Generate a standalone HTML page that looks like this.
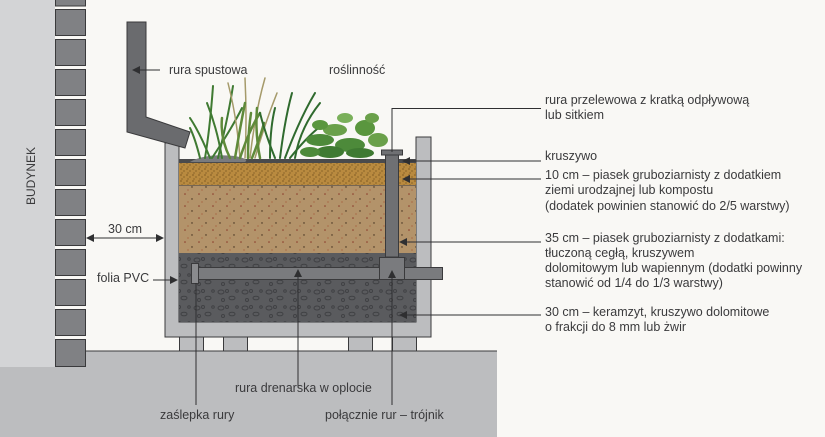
<!DOCTYPE html>
<html><head><meta charset="utf-8"><style>
html,body{margin:0;padding:0;background:#f9f8f5}
svg{display:block}
text{font-family:"Liberation Sans",sans-serif;font-size:12.5px;fill:#3a3a3c}
</style></head><body>
<svg width="825" height="437" viewBox="0 0 825 437" xmlns="http://www.w3.org/2000/svg">
<defs>
<marker id="a" markerWidth="8" markerHeight="8" refX="7" refY="4" orient="auto" markerUnits="userSpaceOnUse"><path d="M0,0 L8,4 L0,8z" fill="#2f2f31"/></marker>
<pattern id="dots1" width="6" height="6" patternUnits="userSpaceOnUse"><rect width="6" height="6" fill="#b98a3f"/><circle cx="1" cy="1" r=".6" fill="#5a3b12"/><circle cx="4" cy="3" r=".6" fill="#6a4a1a"/><circle cx="2" cy="5" r=".5" fill="#4a300c"/></pattern>
<pattern id="dots2" width="14" height="12" patternUnits="userSpaceOnUse"><rect width="14" height="12" fill="#b3936a"/><circle cx="3" cy="2" r=".8" fill="#8a3a2a"/><circle cx="10" cy="7" r=".7" fill="#3a2a1a"/><circle cx="6" cy="10" r=".6" fill="#a05030"/></pattern>
<pattern id="grav" width="24" height="16" patternUnits="userSpaceOnUse"><rect width="24" height="16" fill="#5a5b5e"/><ellipse cx="5" cy="4" rx="3" ry="2" fill="none" stroke="#404144" stroke-width="1"/><ellipse cx="16" cy="10" rx="3" ry="1.8" fill="none" stroke="#404144" stroke-width="1"/><circle cx="11" cy="3" r="1.5" fill="none" stroke="#404144"/><circle cx="21" cy="3" r="1.3" fill="none" stroke="#404144"/><circle cx="7" cy="12" r="1.5" fill="none" stroke="#404144"/></pattern>
</defs>
<rect x="0" y="0" width="55" height="367" fill="#d3d4d6"/>
<rect x="0" y="367" width="497" height="70" fill="#bcbdbf"/>
<rect x="85" y="351" width="412" height="16" fill="#bcbdbf"/>
<line x1="85" y1="351" x2="497" y2="351" stroke="#3a3a3c" stroke-width="1"/>
<g fill="#808184" stroke="#3a3a3c" stroke-width="1">
<rect x="55.5" y="-20" width="30" height="26"/>
<rect x="55.5" y="9.5" width="30" height="26"/><rect x="55.5" y="39.5" width="30" height="26"/><rect x="55.5" y="69.5" width="30" height="26"/><rect x="55.5" y="99.5" width="30" height="26"/><rect x="55.5" y="129.5" width="30" height="26"/><rect x="55.5" y="159.5" width="30" height="26"/><rect x="55.5" y="189.5" width="30" height="26"/><rect x="55.5" y="219.5" width="30" height="26"/><rect x="55.5" y="249.5" width="30" height="26"/><rect x="55.5" y="279.5" width="30" height="26"/><rect x="55.5" y="309.5" width="30" height="26"/><rect x="55.5" y="339.5" width="30" height="27"/>
</g>
<text transform="translate(35,205) rotate(-90)" style="font-size:12px">BUDYNEK</text>
<g fill="#bcbdbf" stroke="#3a3a3c"><rect x="179.5" y="337" width="24" height="14"/><rect x="223.5" y="337" width="24" height="14"/><rect x="348.5" y="337" width="24" height="14"/><rect x="392.5" y="337" width="24" height="14"/></g>
<path d="M165,143 H179 V322 H416 V137 H431 V337 H165 Z" fill="#bcbdbf" stroke="#3a3a3c"/>
<rect x="179" y="253" width="237" height="69" fill="url(#grav)"/>
<rect x="179" y="185" width="237" height="68" fill="url(#dots2)"/>
<line x1="179" y1="185" x2="416" y2="185" stroke="#3a3a3c"/>
<rect x="179" y="162" width="237" height="23" fill="url(#dots1)"/>
<rect x="179" y="159" width="237" height="4" fill="#4a4a4c"/>
<path d="M190,162 q15,-9 45,-6 q15,3 10,6z" fill="#7a7b7e"/>
<g stroke-linecap="round" fill="none">
<g stroke="#3f7a32" stroke-width="2">
<path d="M205,158 q5,-30 8,-72"/><path d="M210,158 q-10,-25 -20,-40"/><path d="M218,158 q10,-40 15,-72"/><path d="M222,158 q-5,-30 -15,-55"/><path d="M212,158 q20,-30 30,-50"/><path d="M200,158 q-5,-20 -10,-30"/>
</g>
<g stroke="#a59a6a" stroke-width="1.5">
<path d="M245,158 q2,-40 0,-80"/><path d="M250,158 q5,-45 15,-80"/><path d="M240,158 q-3,-40 -12,-75"/><path d="M255,158 q10,-35 22,-65"/>
</g>
<g stroke="#5f8a3a" stroke-width="2.5">
<path d="M235,158 q5,-30 10,-55"/><path d="M240,158 q10,-30 20,-45"/><path d="M260,158 q-5,-25 -3,-50"/><path d="M230,158 q-10,-20 -8,-40"/><path d="M248,158 q0,-25 3,-45"/><path d="M252,158 q8,-20 12,-35"/>
</g>
<g stroke="#2f6a2e" stroke-width="2">
<path d="M280,158 q5,-40 12,-65"/><path d="M285,158 q15,-40 30,-65"/><path d="M275,158 q-10,-25 -15,-45"/><path d="M290,158 q20,-25 35,-35"/><path d="M295,158 q5,-30 25,-55"/><path d="M270,158 q0,-30 5,-50"/>
</g>
</g>
<g fill="#4d8a3a">
<ellipse cx="320" cy="140" rx="14" ry="6"/><ellipse cx="335" cy="130" rx="12" ry="6" fill="#6aa04a"/><ellipse cx="350" cy="145" rx="15" ry="7"/><ellipse cx="365" cy="128" rx="10" ry="8" fill="#5a963e"/><ellipse cx="378" cy="140" rx="10" ry="7" fill="#6aa04a"/><ellipse cx="330" cy="152" rx="14" ry="6" fill="#3f7a32"/><ellipse cx="360" cy="153" rx="14" ry="5" fill="#3f7a32"/><ellipse cx="345" cy="118" rx="8" ry="5" fill="#7ab05a"/><ellipse cx="310" cy="152" rx="10" ry="5"/><ellipse cx="372" cy="118" rx="7" ry="5" fill="#6aa04a"/><ellipse cx="320" cy="125" rx="8" ry="5" fill="#5a963e"/>
</g>
<path d="M127,22 H146 V117 L190,132 L185,148 L127,132 Z" fill="#6a6b6e" stroke="#3a3a3c"/>
<rect x="385.5" y="153" width="13" height="104" fill="#6f7073" stroke="#3a3a3c"/>
<rect x="381.5" y="150" width="21" height="5" fill="#6f7073" stroke="#3a3a3c"/>
<rect x="192.5" y="267.5" width="250" height="12" fill="#7a7b7e" stroke="#3a3a3c"/>
<rect x="379.5" y="257.5" width="25" height="22" fill="#7a7b7e" stroke="#3a3a3c"/>
<rect x="191.5" y="263.5" width="7" height="20" fill="#8a8b8e" stroke="#3a3a3c"/>
<g stroke="#2f2f31" stroke-width="1" fill="none">
<line x1="160" y1="70" x2="133" y2="70" marker-end="url(#a)"/>
<line x1="87" y1="238" x2="163" y2="238" marker-end="url(#a)"/>
<line x1="163" y1="238" x2="87" y2="238" marker-end="url(#a)"/>
<line x1="153" y1="280" x2="177" y2="280" marker-end="url(#a)"/>
<line x1="196" y1="405" x2="196" y2="283"/>
<line x1="298" y1="387" x2="298" y2="270" marker-end="url(#a)"/>
<line x1="392" y1="405" x2="392" y2="271" marker-end="url(#a)"/>
<polyline points="392,152 392,108.5 541,108.5"/>
<line x1="541" y1="161" x2="403" y2="161" marker-end="url(#a)"/>
<line x1="541" y1="179" x2="403" y2="179" marker-end="url(#a)"/>
<line x1="541" y1="242" x2="400" y2="242" marker-end="url(#a)"/>
<line x1="541" y1="315" x2="400" y2="315" marker-end="url(#a)"/>
</g>
<text x="169" y="74">rura spustowa</text>
<text x="329" y="74">roślinność</text>
<text x="108" y="233">30 cm</text>
<text x="97" y="282">folia PVC</text>
<text x="235" y="392">rura drenarska w oplocie</text>
<text x="160" y="419">zaślepka rury</text>
<text x="325" y="419">połącznie rur – trójnik</text>
<text x="545" y="104">rura przelewowa z kratką odpływową</text>
<text x="545" y="119">lub sitkiem</text>
<text x="545" y="160">kruszywo</text>
<text x="545" y="179">10 cm – piasek gruboziarnisty z dodatkiem</text>
<text x="545" y="194">ziemi urodzajnej lub kompostu</text>
<text x="545" y="210">(dodatek powinien stanowić do 2/5 warstwy)</text>
<text x="545" y="242">35 cm – piasek gruboziarnisty z dodatkami:</text>
<text x="545" y="257">tłuczoną cegłą, kruszywem</text>
<text x="545" y="272">dolomitowym lub wapiennym (dodatki powinny</text>
<text x="545" y="287">stanowić od 1/4 do 1/3 warstwy)</text>
<text x="545" y="316">30 cm –  keramzyt, kruszywo dolomitowe</text>
<text x="545" y="331">o frakcji do 8 mm lub żwir</text>
</svg>
</body></html>
